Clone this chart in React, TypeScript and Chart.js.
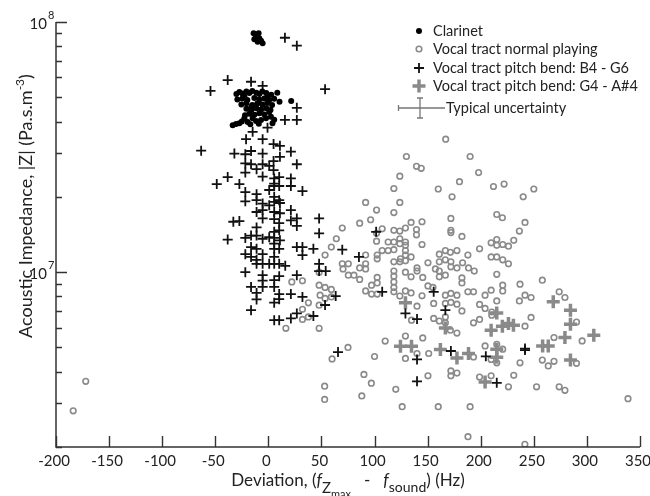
import React, { useEffect, useRef } from 'react';
import { Chart, registerables } from 'chart.js';

Chart.register(...registerables);

const FONT = 'Lato, "Liberation Sans", sans-serif';

// ---- axis ticks ----
const xTicks = [-200, -150, -100, -50, 0, 50, 100, 150, 200, 250, 300, 350];
const yMajor = [1e7, 1e8];
const yMajorLabels = ['7', '8'];
const yMinor = [2e6, 3e6, 4e6, 5e6, 6e6, 7e6, 8e6, 9e6, 2e7, 3e7, 4e7, 5e7, 6e7, 7e7, 8e7, 9e7];

// ---- series: [deviation Hz, |Z| Pa.s.m^-3] ----
const clarinet: [number, number][] = [
  [-13.9, 9.01e7], [-9.2, 9.01e7], [-11.6, 8.79e7], [-13.2, 8.53e7], [-8.5, 8.61e7], [-10.1, 8.34e7], [-5.4, 8.22e7], [-6.9, 8.42e7],
  [-30.1, 5.15e7], [-27.3, 5.25e7], [-24.5, 5.18e7], [-20.7, 5.28e7], [-17.9, 5.2e7], [-15.1, 5.3e7], [-11.3, 5.22e7], [-8.5, 5.16e7],
  [-5.7, 5.27e7], [-2.0, 5.2e7], [2.7, 5.12e7], [8.4, 5.22e7],
  [-29.2, 4.9e7], [-24.5, 4.95e7], [-19.8, 4.88e7], [-13.2, 4.97e7], [-8.5, 4.9e7], [-3.8, 4.95e7], [0.8, 4.88e7], [5.5, 4.93e7], [21.5, 4.83e7],
  [-25.4, 4.68e7], [-20.7, 4.73e7], [-15.1, 4.66e7], [-10.4, 4.72e7], [-5.7, 4.68e7], [-1.0, 4.74e7], [3.5, 4.66e7],
  [-20.7, 4.5e7], [-16.0, 4.45e7], [-11.3, 4.52e7], [-6.7, 4.47e7], [-2.0, 4.52e7], [2.0, 4.45e7],
  [-17.9, 4.3e7], [-13.2, 4.26e7], [-8.5, 4.32e7], [-3.8, 4.27e7], [-22.0, 4.24e7],
  [-30.4, 3.91e7], [-33.6, 3.87e7], [-27.3, 3.94e7], [-22.6, 4.12e7], [-19.5, 3.98e7], [-14.8, 4.12e7], [-11.6, 4.02e7],
  [-6.9, 4.06e7], [-2.2, 4.12e7], [2.4, 4.18e7], [5.5, 4.07e7], [3.9, 3.94e7], [-17.0, 3.9e7], [-9.0, 3.92e7], [-25.0, 4.0e7],
  [-22.6, 5.05e7], [-1.0, 5.0e7], [0.8, 4.37e7], [-16.0, 4.58e7], [10.5, 4.8e7],
];

const normalPlaying: [number, number][] = [
  [64.0, 1.36e7], [59.3, 1.26e7], [53.4, 1.17e7], [22.1, 9.14e6], [32.1, 9.23e6], [47.8, 8.87e6], [53.4, 8.69e6], [59.3, 8.53e6],
  [53.4, 7.85e6], [59.3, 7.96e6], [47.8, 7.38e6], [37.7, 7.54e6], [32.1, 7.1e6], [32.1, 6.47e6], [37.7, 6.62e6], [16.5, 5.96e6], [47.8, 5.96e6],
  [139.5, 2.65e7], [123.8, 2.42e7], [118.2, 2.16e7], [91.6, 1.9e7], [123.8, 1.9e7], [101.9, 1.77e7], [118.2, 1.73e7], [96.3, 1.62e7],
  [86.0, 1.57e7], [134.4, 1.58e7], [144.7, 1.59e7], [69.6, 1.5e7], [107.2, 1.49e7], [118.2, 1.47e7], [123.8, 1.46e7], [129.1, 1.5e7],
  [139.5, 1.48e7], [101.9, 1.43e7], [101.9, 1.33e7], [112.8, 1.32e7], [118.2, 1.32e7], [123.8, 1.36e7], [123.8, 1.3e7], [129.1, 1.32e7],
  [139.5, 1.41e7], [144.7, 1.29e7], [107.2, 1.22e7], [112.8, 1.22e7], [118.2, 1.23e7], [102.5, 1.17e7], [102.5, 1.13e7], [91.6, 1.17e7],
  [129.1, 1.22e7], [134.4, 1.15e7], [118.2, 1.1e7], [123.8, 1.1e7], [129.1, 1.11e7], [150.3, 1.09e7], [69.6, 1.08e7], [75.3, 1.08e7],
  [86.0, 1.04e7], [91.6, 1.08e7], [91.6, 1.03e7], [118.2, 1.01e7], [140.0, 1.04e7], [140.0, 1.01e7], [157.3, 1.03e7], [70.3, 1.03e7],
  [75.3, 9.73e6], [80.6, 9.73e6], [86.0, 9.35e6], [102.5, 9.53e6], [118.2, 9.64e6], [118.2, 9.14e6], [134.4, 9.58e6], [145.4, 9.53e6],
  [97.2, 8.87e6], [102.5, 9.06e6], [118.2, 8.69e6], [91.6, 8.41e6], [97.2, 8.17e6], [102.5, 8.17e6], [118.2, 8.34e6], [123.8, 8.02e6],
  [134.4, 8.26e6], [144.7, 8.04e6], [150.3, 8.81e6], [155.0, 8.69e6], [47.8, 1.0e7], [48.7, 8.09e6],
  [215.1, 1.7e7], [220.4, 1.65e7], [241.7, 1.58e7], [171.9, 1.64e7], [171.9, 1.47e7], [171.9, 1.44e7], [182.3, 1.39e7], [236.4, 1.46e7],
  [231.1, 1.34e7], [226.1, 1.27e7], [220.7, 1.29e7], [215.1, 1.35e7], [209.8, 1.31e7], [215.1, 1.28e7], [198.9, 1.24e7], [187.9, 1.17e7],
  [177.6, 1.22e7], [171.4, 1.2e7], [166.7, 1.22e7], [161.0, 1.18e7], [129.1, 1.28e7], [129.1, 1.17e7], [124.4, 1.13e7], [161.0, 1.1e7],
  [166.7, 1.12e7], [171.9, 1.1e7], [171.9, 1.05e7], [177.6, 1.04e7], [182.9, 1.09e7], [188.5, 1.04e7], [193.9, 1.01e7], [209.8, 1.15e7],
  [215.1, 1.15e7], [220.7, 1.12e7], [226.1, 1.08e7], [161.0, 1.01e7], [129.1, 1.0e7], [161.0, 9.58e6], [166.7, 9.73e6], [182.3, 9.48e6],
  [182.3, 9.06e6], [215.1, 9.8e6], [258.0, 9.29e6], [237.0, 8.95e6], [220.7, 8.87e6], [209.8, 8.47e6], [204.1, 8.09e6], [220.7, 8.41e6],
  [187.9, 8.34e6], [193.2, 8.34e6], [166.7, 8.09e6], [171.9, 8.22e6], [177.6, 8.09e6], [129.1, 8.41e6], [236.4, 7.67e6], [241.7, 8.09e6],
  [247.4, 7.92e6], [273.9, 8.34e6], [279.3, 7.92e6], [215.1, 7.67e6], [140.0, 7.31e6], [155.7, 7.5e6], [166.7, 7.5e6], [171.9, 7.57e6],
  [177.6, 7.45e6], [182.3, 7.0e6], [198.9, 7.43e6], [204.1, 7.16e6], [210.4, 6.93e6], [210.4, 6.73e6], [247.4, 6.59e6], [193.2, 6.27e6],
  [198.9, 6.47e6], [166.7, 6.62e6], [166.7, 6.27e6], [155.7, 6.53e6], [161.0, 6.38e6], [134.8, 6.43e6], [171.4, 5.86e6], [177.6, 5.71e6],
  [241.7, 6.08e6], [290.2, 6.32e6], [129.1, 5.55e6], [145.4, 5.46e6], [269.0, 5.48e6], [295.5, 5.31e6], [204.1, 5.07e6], [215.1, 5.15e6],
  [220.7, 4.92e6], [209.8, 4.48e6], [215.1, 4.34e6], [129.1, 4.52e6], [140.0, 4.73e6], [151.0, 4.73e6], [193.2, 4.58e6], [237.0, 4.34e6],
  [258.0, 4.45e6], [263.6, 4.22e6], [269.0, 4.4e6], [290.2, 4.32e6], [171.9, 4.03e6], [171.9, 3.85e6], [177.6, 3.95e6], [150.3, 3.85e6],
  [198.9, 3.81e6], [209.8, 3.85e6], [231.1, 3.87e6], [226.1, 3.48e6], [252.6, 3.48e6], [273.9, 3.48e6], [279.3, 3.37e6], [338.7, 3.12e6],
  [-183.8, 2.79e6], [-172.0, 3.66e6], [241.6, 2.05e6],
  [167.0, 3.4e7], [130.0, 2.9e7], [144.0, 2.6e7], [190.0, 2.9e7], [198.0, 2.5e7], [180.0, 2.3e7], [160.0, 2.15e7], [212.0, 2.2e7],
  [222.0, 2.25e7], [240.0, 2.0e7], [250.0, 2.15e7], [173.0, 2.0e7],
  [53.0, 3.5e6], [53.0, 3.1e6], [90.0, 3.9e6], [97.0, 3.6e6], [120.0, 3.4e6], [88.0, 3.2e6], [126.0, 2.9e6], [60.0, 4.5e6],
  [75.0, 5.0e6], [100.0, 4.6e6], [110.0, 5.3e6], [188.0, 2.2e6], [160.0, 2.9e6], [190.0, 2.9e6],
];

const pitchBendHigh: [number, number][] = [
  [15.6, 8.65e7], [26.8, 8.04e7], [-38.3, 5.86e7], [-16.3, 5.77e7], [-5.4, 5.55e7], [-54.5, 5.3e7], [53.4, 5.39e7], [26.8, 4.54e7],
  [15.6, 4.06e7], [26.8, 4.06e7], [-0.8, 3.78e7], [-14.8, 3.64e7], [-21.0, 3.4e7], [-5.4, 3.4e7], [4.9, 3.25e7], [10.9, 3.2e7],
  [-63.3, 3.06e7], [-32.0, 2.98e7], [-21.7, 2.96e7], [-16.3, 3.05e7], [-5.4, 2.98e7], [21.2, 3.03e7], [10.9, 2.89e7], [-21.7, 2.72e7],
  [-16.3, 2.7e7], [-5.4, 2.7e7], [4.9, 2.78e7], [26.8, 2.7e7], [0.8, 2.66e7], [-11.1, 2.58e7], [-21.7, 2.5e7], [4.9, 2.56e7],
  [-38.3, 2.4e7], [-5.4, 2.41e7], [10.2, 2.4e7], [21.2, 2.37e7], [-48.6, 2.25e7], [-27.3, 2.25e7], [5.5, 2.37e7], [5.5, 2.26e7],
  [5.5, 2.21e7], [10.2, 2.21e7], [21.2, 2.21e7], [32.1, 2.11e7], [-21.7, 2.09e7], [0.8, 2.13e7], [-11.1, 2.05e7], [-11.1, 1.94e7],
  [-21.7, 1.92e7], [5.5, 2.0e7], [10.2, 1.94e7], [5.5, 1.91e7], [10.9, 1.89e7], [-5.4, 1.88e7], [0.8, 1.85e7], [-11.1, 1.74e7],
  [-5.4, 1.77e7], [5.5, 1.74e7], [10.9, 1.72e7], [-5.4, 1.64e7], [5.5, 1.63e7], [21.2, 1.77e7], [21.2, 1.61e7], [26.8, 1.64e7],
  [26.8, 1.53e7], [-33.0, 1.59e7], [-27.3, 1.6e7], [-11.1, 1.51e7], [10.2, 1.57e7], [10.2, 1.47e7], [5.5, 1.45e7], [-38.3, 1.35e7],
  [-21.7, 1.37e7], [-16.3, 1.4e7], [-11.1, 1.4e7], [-5.4, 1.36e7], [0.8, 1.38e7], [5.5, 1.37e7], [10.9, 1.34e7], [-16.3, 1.26e7],
  [-11.1, 1.24e7], [5.5, 1.3e7], [5.5, 1.24e7], [10.2, 1.24e7], [26.8, 1.26e7], [32.1, 1.26e7], [32.1, 1.17e7], [42.4, 1.24e7],
  [-21.7, 1.18e7], [-16.3, 1.15e7], [-11.1, 1.12e7], [-5.4, 1.18e7], [5.5, 1.15e7], [0.8, 1.08e7], [-5.4, 1.08e7], [5.5, 1.08e7],
  [10.2, 1.08e7], [15.9, 1.06e7], [-11.1, 1.08e7], [-21.7, 1.0e7], [-5.4, 9.73e6], [-5.4, 9.25e6], [-5.4, 8.73e6], [5.5, 9.29e6],
  [10.2, 9.64e6], [26.8, 9.73e6], [47.8, 1.08e7], [47.8, 1.01e7], [54.0, 1.01e7], [-16.3, 8.73e6], [-11.1, 8.26e6], [-11.1, 7.78e6],
  [5.5, 8.73e6], [10.2, 8.17e6], [10.2, 7.8e6], [21.2, 8.17e6], [32.1, 7.96e6], [5.5, 7.55e6], [-16.3, 7.05e6], [26.8, 6.84e6],
  [21.2, 6.53e6], [5.5, 6.43e6], [10.2, 6.43e6], [42.4, 6.68e6], [53.4, 7.39e6], [63.4, 8.02e6], [69.6, 1.23e7], [47.8, 1.64e7],
  [47.8, 1.43e7], [85.3, 1.15e7], [101.5, 1.45e7], [107.2, 8.34e6], [155.7, 8.34e6], [129.1, 6.84e6], [140.0, 6.49e6], [166.7, 7.05e6],
  [171.9, 4.84e6], [204.8, 4.61e6], [241.7, 4.95e6], [241.7, 4.88e6], [140.0, 4.48e6], [140.0, 3.66e6], [215.1, 3.61e6], [65.6, 4.79e6],
];

const pitchBendLow: [number, number][] = [
  [268.3, 7.61e6], [284.5, 7.05e6], [284.5, 6.19e6], [279.3, 5.48e6], [306.5, 5.6e6], [258.3, 5.07e6], [263.6, 5.07e6], [284.5, 4.45e6],
  [215.1, 6.87e6], [209.8, 5.86e6], [220.4, 6.08e6], [226.1, 6.24e6], [230.8, 6.14e6], [166.7, 5.98e6], [129.1, 7.54e6], [134.8, 5.06e6],
  [124.4, 5.06e6], [162.0, 4.91e6], [177.6, 4.54e6], [188.5, 4.73e6], [215.1, 4.92e6], [215.1, 4.57e6], [204.1, 3.64e6],
];

const seriesLabels = [
  'Clarinet',
  'Vocal tract normal playing',
  'Vocal tract pitch bend: B4 - G6',
  'Vocal tract pitch bend: G4 - A#4',
];
const uncertaintyLabel = 'Typical uncertainty';

const GRAY = '#8a8a8a';
const INK = '#222';

const toPts = (a: [number, number][]) => a.map(([x, y]) => ({ x, y }));

type Seg = { t: string; font: string; dy: number };

function drawSegs(ctx: CanvasRenderingContext2D, segs: Seg[], cx: number, base: number) {
  let total = 0;
  for (const s of segs) { ctx.font = s.font; total += ctx.measureText(s.t).width; }
  let xx = cx - total / 2;
  for (const s of segs) {
    ctx.font = s.font;
    ctx.fillText(s.t, xx, base + s.dy);
    xx += ctx.measureText(s.t).width;
  }
}

const decorPlugin = {
  id: 'decor',
  afterDraw(chart: any) {
    const { ctx, chartArea: a, scales } = chart;
    const xs = scales.x, ys = scales.y;
    ctx.save();
    // axes
    ctx.strokeStyle = '#333';
    ctx.lineWidth = 1.5;
    ctx.beginPath();
    ctx.moveTo(a.left, a.top);
    ctx.lineTo(a.left, a.bottom);
    ctx.lineTo(a.right, a.bottom);
    ctx.stroke();
    ctx.lineWidth = 1.4;
    ctx.beginPath();
    for (const v of xTicks) {
      const px = Math.round(xs.getPixelForValue(v)) + 0.5;
      ctx.moveTo(px, a.bottom);
      ctx.lineTo(px, a.bottom - 11);
    }
    for (const v of yMajor) {
      const py = Math.round(ys.getPixelForValue(v)) + 0.5;
      ctx.moveTo(a.left, py);
      ctx.lineTo(a.left + 11, py);
    }
    for (const v of yMinor) {
      const py = Math.round(ys.getPixelForValue(v)) + 0.5;
      ctx.moveTo(a.left, py);
      ctx.lineTo(a.left + 6, py);
    }
    ctx.stroke();

    // tick labels
    ctx.fillStyle = INK;
    ctx.textBaseline = 'middle';
    ctx.textAlign = 'center';
    ctx.font = `15px ${FONT}`;
    for (const v of xTicks) {
      ctx.fillText(String(v), xs.getPixelForValue(v) - 2, a.bottom + 14);
    }
    yMajor.forEach((v, i) => {
      const py = ys.getPixelForValue(v);
      ctx.textAlign = 'right';
      ctx.font = `15px ${FONT}`;
      ctx.fillText('10', a.left - 9, py + 2);
      ctx.textAlign = 'left';
      ctx.font = `11px ${FONT}`;
      ctx.fillText(yMajorLabels[i], a.left - 8, py - 7);
    });

    // x title
    ctx.textAlign = 'left';
    ctx.textBaseline = 'alphabetic';
    const f17 = `17px ${FONT}`;
    const fi = `italic 17px ${FONT}`;
    drawSegs(ctx, [
      { t: 'Deviation, (', font: f17, dy: 0 },
      { t: 'f', font: fi, dy: 0 },
      { t: 'Z', font: `15px ${FONT}`, dy: 7 },
      { t: 'max', font: `11px ${FONT}`, dy: 12 },
      { t: '   -   ', font: f17, dy: 0 },
      { t: 'f', font: fi, dy: 0 },
      { t: 'sound', font: `14px ${FONT}`, dy: 6 },
      { t: ') (Hz)', font: f17, dy: 0 },
    ], 348, 486);

    // y title
    const f18 = `18px ${FONT}`;
    ctx.save();
    ctx.translate(26, 206);
    ctx.rotate(-Math.PI / 2);
    drawSegs(ctx, [
      { t: 'Acoustic Impedance, |Z| (Pa.s.m', font: f18, dy: 0 },
      { t: '-3', font: `12px ${FONT}`, dy: -8 },
      { t: ')', font: f18, dy: 0 },
    ], 0, 6);
    ctx.restore();

    // legend
    const mx = 419, tx = 433;
    const rows = [31, 49, 68, 86];
    ctx.fillStyle = '#000';
    ctx.beginPath(); ctx.arc(mx, rows[0], 3, 0, Math.PI * 2); ctx.fill();
    ctx.strokeStyle = GRAY; ctx.lineWidth = 1.6;
    ctx.beginPath(); ctx.arc(mx, rows[1], 2.8, 0, Math.PI * 2); ctx.stroke();
    ctx.strokeStyle = '#111'; ctx.lineWidth = 1.8;
    ctx.beginPath(); ctx.moveTo(mx - 5, rows[2]); ctx.lineTo(mx + 5, rows[2]); ctx.moveTo(mx, rows[2] - 5); ctx.lineTo(mx, rows[2] + 5); ctx.stroke();
    ctx.strokeStyle = GRAY; ctx.lineWidth = 3.5;
    ctx.beginPath(); ctx.moveTo(mx - 6.5, rows[3]); ctx.lineTo(mx + 6.5, rows[3]); ctx.moveTo(mx, rows[3] - 6.5); ctx.lineTo(mx, rows[3] + 6.5); ctx.stroke();
    const uy = 108, ux = 420;
    ctx.strokeStyle = '#777'; ctx.lineWidth = 1.3;
    ctx.beginPath();
    ctx.moveTo(398, uy); ctx.lineTo(445, uy);
    ctx.moveTo(398.5, uy - 3); ctx.lineTo(398.5, uy + 3);
    ctx.moveTo(ux, 98); ctx.lineTo(ux, 118);
    ctx.moveTo(ux - 3, 98); ctx.lineTo(ux + 3, 98);
    ctx.moveTo(ux - 3, 118); ctx.lineTo(ux + 3, 118);
    ctx.stroke();

    ctx.fillStyle = INK;
    ctx.textBaseline = 'middle';
    ctx.textAlign = 'left';
    ctx.font = `14.5px ${FONT}`;
    seriesLabels.forEach((s, i) => ctx.fillText(s, tx, rows[i]));
    ctx.fillText(uncertaintyLabel, 446, uy);
    ctx.restore();
  },
};

export default function App() {
  const ref = useRef<HTMLCanvasElement | null>(null);
  useEffect(() => {
    if (!ref.current) return;
    const chart = new Chart(ref.current, {
      type: 'scatter',
      data: {
        datasets: [
          {
            label: seriesLabels[0], data: toPts(clarinet), pointStyle: 'circle', pointRadius: 3,
            backgroundColor: '#000', borderColor: '#000', borderWidth: 0, order: 1,
          },
          {
            label: seriesLabels[1], data: toPts(normalPlaying), pointStyle: 'circle', pointRadius: 2.8,
            backgroundColor: 'rgba(255,255,255,0)', borderColor: GRAY, borderWidth: 1.6, order: 4,
          },
          {
            label: seriesLabels[2], data: toPts(pitchBendHigh), pointStyle: 'cross', pointRadius: 5,
            backgroundColor: '#111', borderColor: '#111', borderWidth: 1.8, order: 2,
          },
          {
            label: seriesLabels[3], data: toPts(pitchBendLow), pointStyle: 'cross', pointRadius: 6.5,
            backgroundColor: GRAY, borderColor: GRAY, borderWidth: 3.5, order: 3,
          },
        ] as any,
      },
      options: {
        animation: false,
        responsive: false,
        devicePixelRatio: 1,
        events: [],
        layout: { padding: { left: 56, right: 8, top: 22, bottom: 49 } },
        plugins: { legend: { display: false }, tooltip: { enabled: false } },
        scales: {
          x: { type: 'linear', min: -200, max: 350, display: false },
          y: { type: 'logarithmic', min: 2e6, max: 1e8, display: false },
        },
      } as any,
      plugins: [decorPlugin],
    });
    return () => chart.destroy();
  }, []);
  return (
    <div style={{ position: 'fixed', left: 0, top: 0, width: 650, height: 496, background: '#fff' }}>
      <canvas ref={ref} width={650} height={496} style={{ display: 'block' }} />
    </div>
  );
}
